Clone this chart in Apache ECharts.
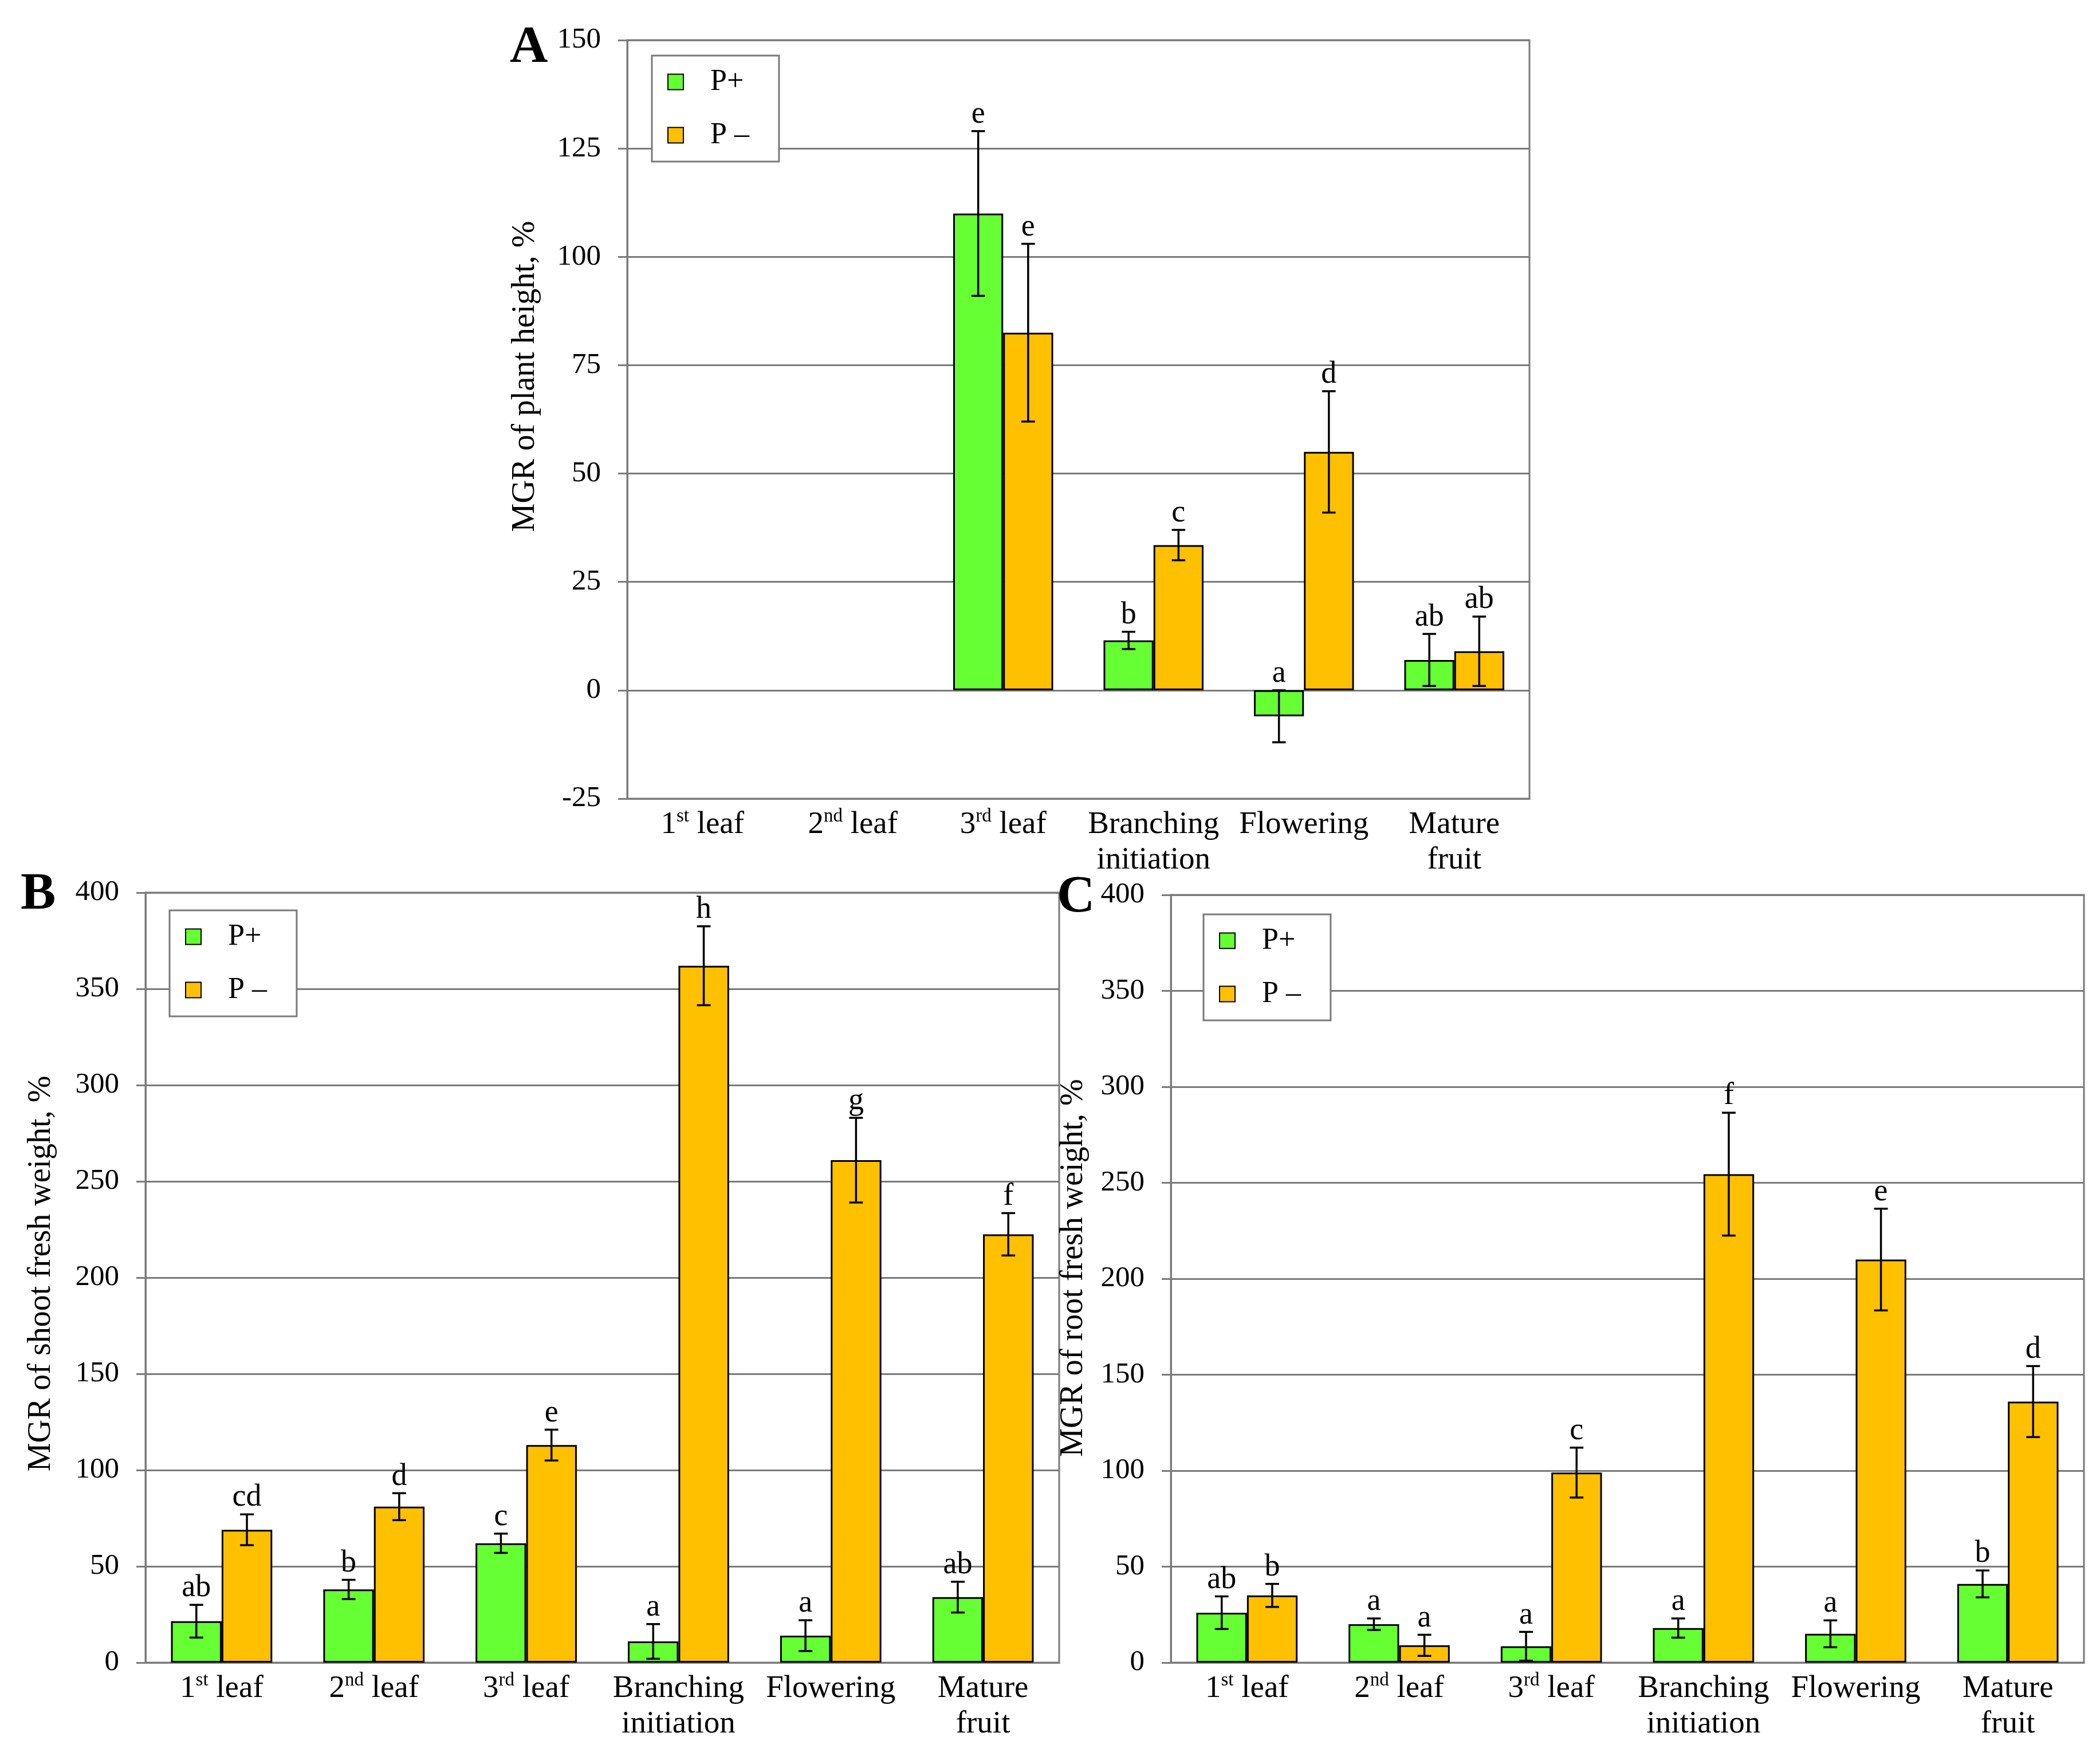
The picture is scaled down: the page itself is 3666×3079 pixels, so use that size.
<!DOCTYPE html>
<html><head><meta charset="utf-8">
<script src="https://cdn.jsdelivr.net/npm/echarts@6/dist/echarts.min.js"></script>
<style>html,body{margin:0;padding:0;background:#fff}#c{width:3666px;height:3079px}</style>
</head><body><div id="c"></div>
<script>
const categories = ['1st leaf','2nd leaf','3rd leaf','Branching\ninitiation','Flowering','Mature\nfruit'];
const seriesNames = ['P+','P \u2013'];
// Panel A: MGR of plant height
const aPlus = [null,null,110,11.5,-6,7];
const aPlusErr = [null,null,19,2,6,6];
const aPlusLetters = ['','','e','b','a','ab'];
const aMinus = [null,null,82.5,33.5,55,9];
const aMinusErr = [null,null,20.5,3.5,14,8];
const aMinusLetters = ['','','e','c','d','ab'];
// Panel B: MGR of shoot fresh weight
const bPlus = [21.5,38,62,11,14,34];
const bPlusErr = [8.5,5,5,9,8,8];
const bPlusLetters = ['ab','b','c','a','a','ab'];
const bMinus = [69,81,113,362,261,222.5];
const bMinusErr = [8,7,8,20.5,22,11];
const bMinusLetters = ['cd','d','e','h','g','f'];
// Panel C: MGR of root fresh weight
const cPlus = [26,20,8.5,18,15,41];
const cPlusErr = [8.5,3,7.5,5,7,7];
const cPlusLetters = ['ab','a','a','a','a','b'];
const cMinus = [35,9,99,254.5,210,136];
const cMinusErr = [6,5.5,13,32,26.5,18.5];
const cMinusLetters = ['b','a','c','f','e','d'];
// Axis scales
const yScaleA = {min:-25, max:150, interval:25};
const yScaleBC = {min:0, max:400, interval:50};
const yNames = ['MGR of plant height, %','MGR of shoot fresh weight, %','MGR of root fresh weight, %'];
const panelLetters = ['A','B','C'];

const FONT = 'Liberation Serif';
const GREEN = '#66FF33', ORANGE = '#FFC000';
const GRID_COLOR = '#7a7a7a';

function catFormatter(v){
  return v.split('\n').map(line=>{
    const m = line.match(/^(\d)(st|nd|rd) (.*)$/);
    return m ? '{n|'+m[1]+'}{sup|'+m[2]+'}{n| '+m[3]+'}' : '{n|'+line+'}';
  }).join('\n');
}

function errSeries(gridIdx, vals, errs, letters, sign){
  return {
    type:'custom', xAxisIndex:gridIdx, yAxisIndex:gridIdx, z:10, silent:true,
    data: vals.map((v,i)=>[i, v==null?NaN:v, errs[i]==null?NaN:errs[i]]),
    renderItem:function(params, api){
      const i = api.value(0), v = api.value(1), e = api.value(2);
      if (isNaN(v)) return null;
      const band = api.size([1,0])[0];
      const dx = sign*band*0.166;
      const t = api.coord([i, v+e]);
      const b = api.coord([i, v-e]);
      const x = t[0]+dx;
      const cap = band*0.045;
      const ls = {stroke:'#000', lineWidth:3.5};
      const children = [
        {type:'line', shape:{x1:x,y1:t[1],x2:x,y2:b[1]}, style:ls},
        {type:'line', shape:{x1:x-cap,y1:t[1],x2:x+cap,y2:t[1]}, style:ls},
        {type:'line', shape:{x1:x-cap,y1:b[1],x2:x+cap,y2:b[1]}, style:ls}
      ];
      const lt = letters[params.dataIndex];
      if (lt) children.push({type:'text', style:{text:lt, x:x, y:t[1]-2, textAlign:'center', textVerticalAlign:'bottom', font:'54px "Liberation Serif"', fill:'#000'}});
      return {type:'group', children:children};
    }
  };
}

function barSeries(gridIdx, name, vals, color){
  return {
    type:'bar', name:name, xAxisIndex:gridIdx, yAxisIndex:gridIdx,
    data: vals.map(v=> v==null?'-':v),
    barGap:'0%', barCategoryGap:'33.5%',
    itemStyle:{color:color, borderColor:'#000', borderWidth:3},
    emphasis:{disabled:true}
  };
}

const grids = [
  {left:1095, top:70, right:996, bottom:1685},
  {left:254, top:1558, right:1817, bottom:177},
  {left:2044, top:1562, right:28, bottom:177}
];
const nameGaps = [150, 154, 142];
const nameShift = [150, 14, 38];
const legendPos = [{left:1138, top:97},{left:296, top:1589},{left:2101, top:1596}];
const letterPos = [{left:890, top:38},{left:36, top:1516},{left:1845, top:1521}];

const option = {
  backgroundColor:'#fff',
  animation:false,
  textStyle:{fontFamily:FONT},
  grid: grids.map(g=>Object.assign({show:true, borderColor:GRID_COLOR, borderWidth:3, containLabel:false}, g)),
  xAxis: grids.map((g,i)=>({
    type:'category', gridIndex:i, data:categories,
    axisLine:{show:true, onZero:false, lineStyle:{color:GRID_COLOR, width:3}},
    axisTick:{show:false},
    axisLabel:{interval:0, margin:15, color:'#000', fontFamily:FONT, fontSize:55, lineHeight:62,
      formatter:catFormatter,
      rich:{
        n:{fontFamily:FONT, fontSize:55, color:'#000', lineHeight:62},
        sup:{fontSize:33, fontFamily:FONT, color:'#000', verticalAlign:'top', lineHeight:36}
      }}
  })),
  yAxis: grids.map((g,i)=>{
    const s = i===0 ? yScaleA : yScaleBC;
    return {
      type:'value', gridIndex:i, min:s.min, max:s.max, interval:s.interval,
      name:yNames[i], nameLocation:'middle', nameGap:nameGaps[i],
      nameTextStyle:{fontFamily:FONT, fontSize:56, color:'#000', padding:[0,0,0,nameShift[i]]},
      axisLine:{show:true, lineStyle:{color:GRID_COLOR, width:3}},
      axisTick:{show:true, length:16, lineStyle:{color:GRID_COLOR, width:3}},
      axisLabel:{margin:46, color:'#000', fontFamily:FONT, fontSize:51},
      splitLine:{show:true, lineStyle:{color:GRID_COLOR, width:3}}
    };
  }),
  legend: legendPos.map(p=>Object.assign({
    orient:'vertical', data:seriesNames, itemWidth:27, itemHeight:27, itemGap:41,
    padding:[20,52,20,27], backgroundColor:'#fff', borderColor:GRID_COLOR, borderWidth:3, borderRadius:0,
    textStyle:{fontFamily:FONT, fontSize:52, color:'#000', padding:[0,0,0,42]}, icon:'rect', selectedMode:false
  }, p)),
  graphic: letterPos.map((p,i)=>({type:'text', left:p.left, top:p.top, style:{text:panelLetters[i], font:'bold 92px "Liberation Serif"', fill:'#000'}})),
  series: [
    barSeries(0, seriesNames[0], aPlus, GREEN),
    barSeries(0, seriesNames[1], aMinus, ORANGE),
    errSeries(0, aPlus, aPlusErr, aPlusLetters, -1),
    errSeries(0, aMinus, aMinusErr, aMinusLetters, 1),
    barSeries(1, seriesNames[0], bPlus, GREEN),
    barSeries(1, seriesNames[1], bMinus, ORANGE),
    errSeries(1, bPlus, bPlusErr, bPlusLetters, -1),
    errSeries(1, bMinus, bMinusErr, bMinusLetters, 1),
    barSeries(2, seriesNames[0], cPlus, GREEN),
    barSeries(2, seriesNames[1], cMinus, ORANGE),
    errSeries(2, cPlus, cPlusErr, cPlusLetters, -1),
    errSeries(2, cMinus, cMinusErr, cMinusLetters, 1)
  ]
};
const chart = echarts.init(document.getElementById('c'), null, {renderer:'canvas'});
chart.setOption(option);
</script>
</body></html>
